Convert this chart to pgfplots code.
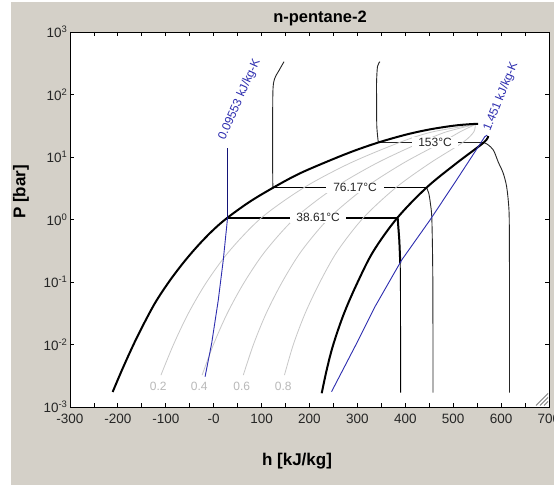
\documentclass[border=0pt]{standalone}
\usepackage{fontspec}
\setmainfont{Liberation Sans}
\usepackage{pgfplots}
\pgfplotsset{compat=1.18}
\definecolor{winbg}{RGB}{212,208,200}
\definecolor{isoblue}{RGB}{45,45,175}
\definecolor{navyline}{RGB}{20,20,120}
\definecolor{qgray}{RGB}{200,200,200}
\definecolor{qlab}{RGB}{185,185,185}
\begin{document}
\begin{tikzpicture}
\useasboundingbox (0,0) rectangle (554bp,485bp);
\clip (0,0) rectangle (554bp,485bp);
\fill[white] (0,0) rectangle (554bp,485bp);
\fill[winbg] (11bp,0) rectangle (554bp,483bp);
\begin{axis}[
  at={(70bp,78bp)}, anchor=south west, scale only axis,
  width=479bp, height=375bp,
  xmin=-300, xmax=700, ymode=log, ymin=1e-3, ymax=1e3,
  axis background/.style={fill=white},
  axis line style={black, line width=0.8bp},
  tick align=inside, major tick length=4bp, minor tick length=4bp,
  tick style={black, line width=0.8bp},
  xtick={-300,-200,...,700}, minor x tick num=1,
  xticklabels={-300,-200,-100,-0,100,200,300,400,500,600,700},
  ytick={1e-3,1e-2,1e-1,1,10,100,1000},
  yticklabels={10\textsuperscript{-3},10\textsuperscript{-2},10\textsuperscript{-1},10\textsuperscript{0},10\textsuperscript{1},10\textsuperscript{2},10\textsuperscript{3}},
  yminorticks=false,
  tick label style={font=\fontsize{13.5bp}{15bp}\selectfont, text=black!85},
  xticklabel shift=4bp,
  yticklabel shift=-1bp,
  clip=true,
]
% ---- isotherms ----
% 38.61 C
\addplot[black, line width=2bp] coordinates {(29,1.072) (384,1.072)};
\addplot[black, line width=0.9bp] coordinates {(384,1.072) (387.5,0.4677) (389.5,0.1995) (390,0.05152) (390.3,1.698e-3)};
\addplot[black, line width=2bp] coordinates {(384,1.072) (387.5,0.4677) (389.5,0.1995)};
% 76.17 C
\addplot[black, line width=1bp] coordinates {(124.4,3.236) (444.3,3.236)};
\addplot[black!85, line width=0.9bp, smooth, tension=0.5] coordinates {(123.5,3.236) (123,10) (123.5,104.7) (127,177.8) (134.9,231.7) (146.8,335.0)};
\addplot[black!85, line width=0.9bp, smooth, tension=0.5] coordinates {(444.3,3.236) (449,2.630) (452.5,1.778) (455.5,0.9772) (457.5,0.1) (457.8,1.698e-3)};
% 153 C
\addplot[black!85, line width=1bp] coordinates {(343.7,17.06) (563.8,17.06)};
\addplot[black!85, line width=0.9bp, smooth, tension=0.5] coordinates {(343.7,17.06) (340.5,31.62) (340,100) (340,158.5) (342,281.8) (347,335.0)};
\addplot[black!85, line width=0.9bp, smooth, tension=0.5] coordinates {(563.8,17.06) (572,15.85) (584,12.88) (594,8.318) (604,5.623) (611,3.548) (615,1.995) (617,1) (617.5,0.1) (617.5,1.698e-3)};
% ---- quality lines ----
\addplot[qgray, line width=0.8bp, smooth] coordinates {(-110.1,3.236e-3) (-83.9,0.01) (-52.8,0.03162) (-14.7,0.1) (33.2,0.3162) (100,1.072) (188.4,3.236) (284.1,7.943) (387.7,17.06) (455.6,25.12) (546,33.11)};
\addplot[qgray, line width=0.8bp, smooth] coordinates {(-24.2,3.236e-3) (-0.5,0.01) (28.4,0.03162) (64.2,0.1) (108.4,0.3162) (170.9,1.072) (252.4,3.236) (339.8,7.943) (431.7,17.06) (484.7,25.12) (546,33.11)};
\addplot[qgray, line width=0.8bp, smooth] coordinates {(61.8,3.236e-3) (83,0.01) (109.7,0.03162) (143,0.1) (183.6,0.3162) (241.9,1.072) (316.4,3.236) (395.4,7.943) (475.8,17.06) (513.8,25.12) (546,33.11)};
\addplot[qgray, line width=0.8bp, smooth] coordinates {(147.7,3.236e-3) (166.3,0.01) (191,0.03162) (221.9,0.1) (258.8,0.3162) (312.8,1.072) (380.3,3.236) (451.1,7.943) (519.8,17.06) (542.9,25.12) (546,33.11)};
% ---- saturation dome ----
\addplot[black, line width=2bp, smooth, tension=0.55] coordinates {(-211,1.738e-3) (-190,4.150e-3) (-165,0.01091) (-140,0.02618) (-119,0.05105) (-90,0.1096) (-60,0.2188) (-30,0.4036) (0,0.6918) (29,1.072) (75,1.919) (124.4,3.236) (175,5.248) (230,8.035) (290,12.30) (343.7,17.06) (400,22.65) (450,27.54) (500,31.62) (535,33.50) (552,33.88)};
\addplot[black, line width=2bp, smooth, tension=0.55] coordinates {(573,21.68) (563.8,17.06) (506.7,7.943) (444.3,3.236) (383.8,1.072) (334,0.3162) (300.7,0.1) (272.2,0.03162) (249.7,0.01) (236.1,3.981e-3) (225.5,1.66e-3)};
% ---- isentropes ----
\addplot[isoblue, line width=0.9bp] coordinates {(-18,3.055e-3) (-4.2,0.01047) (9.6,0.05152) (20,0.2249) (29,1.072)};
\addplot[navyline, line width=1.4bp] coordinates {(29,1.072) (29,13.80)};
\addplot[isoblue, line width=0.9bp] coordinates {(246,1.758e-3) (298.5,0.01047) (336.7,0.04027) (392.5,0.2249) (451.6,0.9817) (507,4.285) (566,21.13) (571,22.39)};
% ---- labels ----
\node[fill=white, inner xsep=6bp, inner ysep=1bp, text=black!85, font=\fontsize{12bp}{14bp}\selectfont] at (axis cs:218,1.072) {38.61°C};
\node[fill=white, inner xsep=7bp, inner ysep=1bp, text=black!85, font=\fontsize{12bp}{14bp}\selectfont] at (axis cs:295,3.236) {76.17°C};
\node[fill=white, inner xsep=6bp, inner ysep=1bp, text=black!85, font=\fontsize{12bp}{14bp}\selectfont] at (axis cs:462,17.06) {153°C};
\node[rotate=66, anchor=west, inner sep=0pt, text=isoblue, font=\fontsize{12bp}{14bp}\selectfont] at (axis cs:17,19.05) {0.09553 kJ/kg-K};
\node[rotate=68, anchor=west, inner sep=0pt, text=isoblue, font=\fontsize{12bp}{14bp}\selectfont] at (axis cs:571,26.06) {1.451 kJ/kg-K};
\node[text=qlab, font=\fontsize{12bp}{14bp}\selectfont] at (axis cs:-115.7,2.168e-3) {0.2};
\node[text=qlab, font=\fontsize{12bp}{14bp}\selectfont] at (axis cs:-30,2.168e-3) {0.4};
\node[text=qlab, font=\fontsize{12bp}{14bp}\selectfont] at (axis cs:58.4,2.168e-3) {0.6};
\node[text=qlab, font=\fontsize{12bp}{14bp}\selectfont] at (axis cs:145.3,2.168e-3) {0.8};
\end{axis}
% resize grip decoration
\draw[gray, line width=0.8bp] (536bp,79.5bp) -- (548bp,91.5bp);
\draw[gray, line width=0.8bp] (540bp,79.5bp) -- (548bp,87.5bp);
\draw[gray, line width=0.8bp] (544bp,79.5bp) -- (548bp,83.5bp);
\node[font=\bfseries\fontsize{16.5bp}{18bp}\selectfont] at (320bp,467bp) {n-pentane-2};
\node[font=\bfseries\fontsize{17bp}{19bp}\selectfont] at (297bp,24bp) {h [kJ/kg]};
\node[rotate=90, font=\bfseries\fontsize{17bp}{19bp}\selectfont] at (21bp,293bp) {P [bar]};
\end{tikzpicture}
\end{document}
